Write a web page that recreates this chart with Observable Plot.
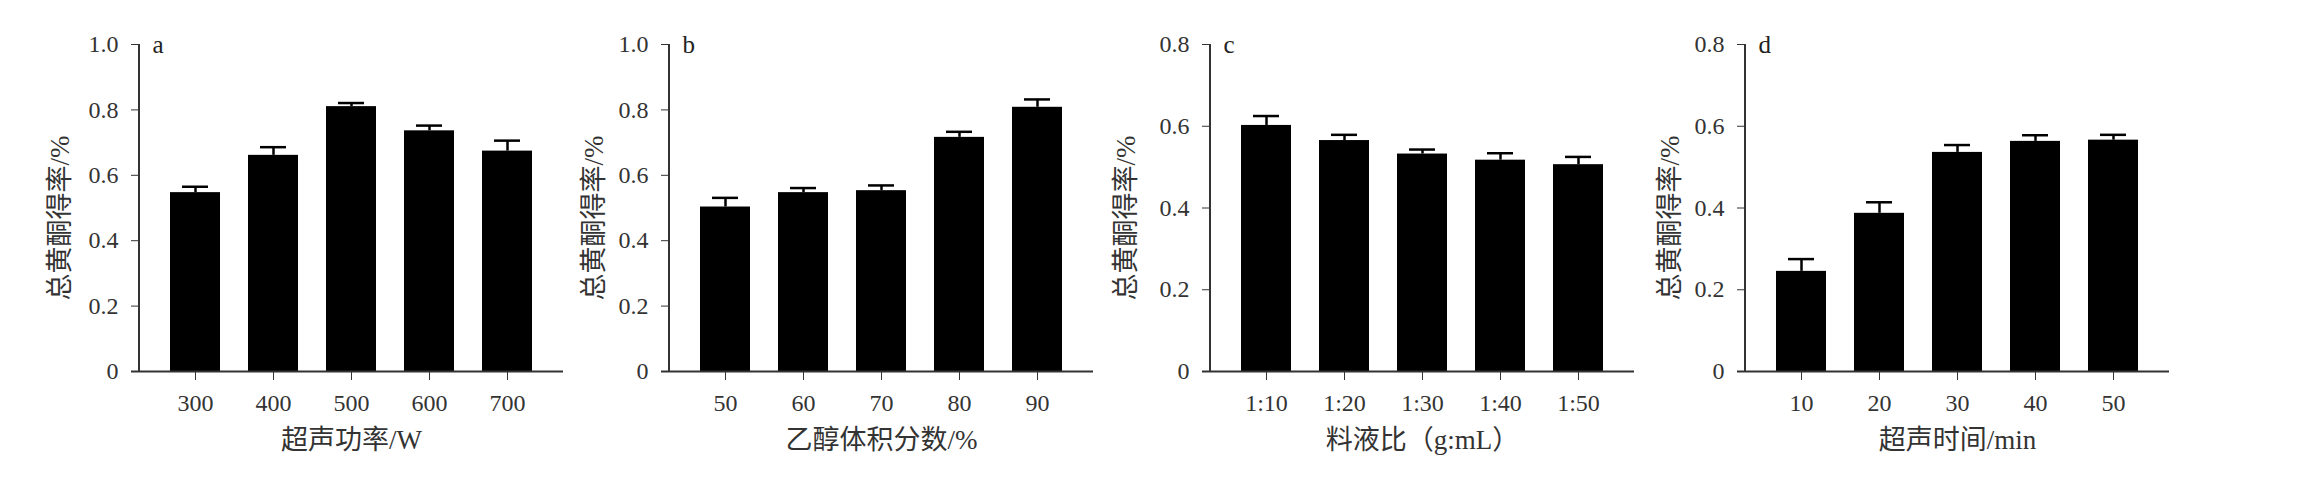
<!DOCTYPE html>
<html><head><meta charset="utf-8">
<script src="https://cdn.jsdelivr.net/npm/d3@7"></script>
<script src="https://cdn.jsdelivr.net/npm/@observablehq/plot@0.6"></script>
<style>
body{margin:0;background:#fff;width:2322px;height:481px;overflow:hidden;position:relative}
#root{position:relative;width:2322px;height:481px}
#root svg{position:absolute;top:0}
</style></head><body>
<div id="root"></div>
<script>
// Panel a: ultrasonic power
const powerCats = ["300","400","500","600","700"];
const powerVals = [0.547,0.661,0.810,0.736,0.674];
const powerErrs = [0.018,0.025,0.011,0.016,0.032];
// Panel b: ethanol volume fraction
const ethanolCats = ["50","60","70","80","90"];
const ethanolVals = [0.503,0.547,0.553,0.716,0.808];
const ethanolErrs = [0.028,0.014,0.016,0.017,0.024];
// Panel c: solid-liquid ratio
const ratioCats = ["1:10","1:20","1:30","1:40","1:50"];
const ratioVals = [0.602,0.565,0.532,0.517,0.506];
const ratioErrs = [0.023,0.014,0.011,0.017,0.019];
// Panel d: ultrasonic time
const timeCats = ["10","20","30","40","50"];
const timeVals = [0.245,0.387,0.536,0.563,0.566];
const timeErrs = [0.030,0.027,0.018,0.015,0.013];

const ticks10 = [0,0.2,0.4,0.6,0.8,1.0];
const ticks08 = [0,0.2,0.4,0.6,0.8];
const yLabel = "总黄酮得率/%";

const panels = [
  {cats: powerCats, vals: powerVals, errs: powerErrs, yMax: 1.0, yTicks: ticks10, xLabel: "超声功率/W", letter: "a", axisX: 139, yLabelOffset: 79},
  {cats: ethanolCats, vals: ethanolVals, errs: ethanolErrs, yMax: 1.0, yTicks: ticks10, xLabel: "乙醇体积分数/%", letter: "b", axisX: 669, yLabelOffset: 75},
  {cats: ratioCats, vals: ratioVals, errs: ratioErrs, yMax: 0.8, yTicks: ticks08, xLabel: "料液比（g:mL）", letter: "c", axisX: 1210, yLabelOffset: 84},
  {cats: timeCats, vals: timeVals, errs: timeErrs, yMax: 0.8, yTicks: ticks08, xLabel: "超声时间/min", letter: "d", axisX: 1745, yLabelOffset: 75}
];

const root = document.getElementById("root");
const ml = 105, fw = 424, mr = 2;
const font = "'Liberation Serif','Noto Sans CJK SC',serif";

for (const p of panels) {
  const data = p.cats.map((c, i) => ({c, v: p.vals[i], e: p.vals[i] + p.errs[i]}));
  const chart = Plot.plot({
    width: ml + fw + mr,
    height: 481,
    marginLeft: ml,
    marginRight: mr,
    marginTop: 44,
    marginBottom: 110,
    style: {background: "transparent", fontFamily: font, fontSize: "24px", color: "#333"},
    x: {domain: p.cats, paddingInner: 0.364, paddingOuter: 0.37, label: null, tickSize: 9, tickPadding: 13},
    y: {domain: [0, p.yMax], ticks: p.yTicks, tickFormat: d => d === 0 ? "0" : d.toFixed(1), label: null, tickSize: 8, tickPadding: 13},
    marks: [
      Plot.barY(data, {x: "c", y: "v", fill: "#000"}),
      Plot.ruleX(data, {x: "c", y1: "v", y2: "e", stroke: "#000", strokeWidth: 2.5}),
      Plot.tickY(data, {x: "c", y: "e", stroke: "#000", strokeWidth: 2.5, insetLeft: 12, insetRight: 12}),
      Plot.ruleY([0], {stroke: "#333", strokeWidth: 2, insetLeft: -8}),
      Plot.text([p.letter], {text: d => d, frameAnchor: "top-left", dx: 13, dy: 0, textAnchor: "start", lineAnchor: "middle", fontSize: 25, fill: "#222"}),
      Plot.text([yLabel], {text: d => d, frameAnchor: "left", rotate: -90, dx: -p.yLabelOffset, dy: 10, textAnchor: "middle", lineAnchor: "middle", fontSize: 27, fill: "#333"}),
      Plot.text([p.xLabel], {text: d => d, frameAnchor: "bottom", dy: 69, textAnchor: "middle", lineAnchor: "middle", fontSize: 27, fill: "#333"})
    ]
  });
  const y = chart.scale("y");
  d3.select(chart).append("line")
    .attr("x1", ml).attr("x2", ml)
    .attr("y1", y.apply(p.yMax)).attr("y2", y.apply(0))
    .attr("stroke", "#333").attr("stroke-width", 2);
  chart.style.left = (p.axisX - ml) + "px";
  root.appendChild(chart);
}
</script>
</body></html>
